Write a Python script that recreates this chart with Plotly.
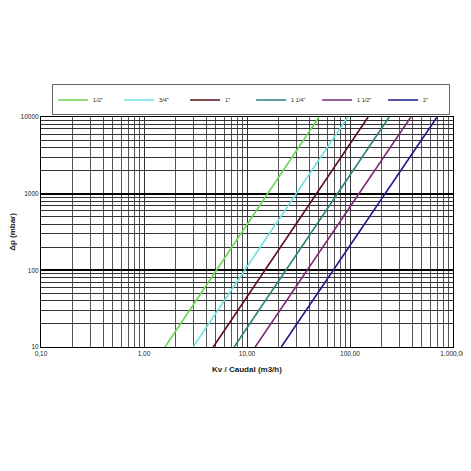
import plotly.graph_objects as go

# Series: flow (m3/h) at the two pressure drops shown (10 and 10000 mbar)
dp_values = [10, 10000]
names = ['1/2"', '3/4"', '1"', '1 1/4"', '1 1/2"', '2"']
flow_1_2 = [1.6, 50]
flow_3_4 = [3.0, 95]
flow_1 = [4.7, 150]
flow_1_1_4 = [7.5, 240]
flow_1_1_2 = [12, 390]
flow_2 = [21.5, 700]
colors = ["#6fd44f", "#6fe0e6", "#5a0f18", "#2f7f7a", "#7a2a78", "#1a1a8a"]

x_tickvals = [0.1, 1, 10, 100, 1000]
x_ticktext = ["0,10", "1,00", "10,00", "100,00", "1.000,00"]
y_tickvals = [10, 100, 1000, 10000]
y_ticktext = ["10", "100", "1000", "10000"]

series = [flow_1_2, flow_3_4, flow_1, flow_1_1_4, flow_1_1_2, flow_2]

fig = go.Figure()
for name, flows, c in zip(names, series, colors):
    fig.add_trace(go.Scatter(x=flows, y=dp_values, mode="lines", name=name,
                             line=dict(color=c, width=1.6)))

# page body has an 8px default margin, so the figure is 463x463 placed at (8,8)
fig.update_layout(
    width=463, height=463,
    margin=dict(l=33, r=18, t=109, b=124, autoexpand=False),
    paper_bgcolor="white", plot_bgcolor="white",
    font=dict(family="Liberation Sans, Arial", size=7, color="#222"),
    legend=dict(orientation="h", x=0.027, xanchor="left", y=1.074, yanchor="middle",
                bordercolor="#666", borderwidth=1, bgcolor="white",
                font=dict(size=5.5), entrywidth=21, entrywidthmode="pixels",
                itemwidth=30, tracegroupgap=0, valign="middle"),
    showlegend=True,
)
fig.update_xaxes(type="log", range=[-1, 3], tickvals=x_tickvals, ticktext=x_ticktext,
                 showgrid=True, gridcolor="#333", gridwidth=1,
                 minor=dict(showgrid=True, gridcolor="#555", gridwidth=1, dtick="D1", ticks=""),
                 showline=True, linecolor="black", linewidth=1, mirror=True,
                 ticks="", tickfont=dict(size=6.5),
                 title=dict(text="<b>Kv / Caudal (m3/h)</b>", font=dict(size=8), standoff=10))
fig.update_yaxes(type="log", range=[1, 4], tickvals=y_tickvals, ticktext=y_ticktext,
                 showgrid=True, gridcolor="black", gridwidth=2,
                 minor=dict(showgrid=True, gridcolor="#333", gridwidth=1, dtick="D1", ticks=""),
                 showline=True, linecolor="black", linewidth=1, mirror=True,
                 ticks="", tickfont=dict(size=6.5),
                 title=dict(text="<b>Δp (mbar)</b>", font=dict(size=8), standoff=8))

fig.write_html("out.html")
